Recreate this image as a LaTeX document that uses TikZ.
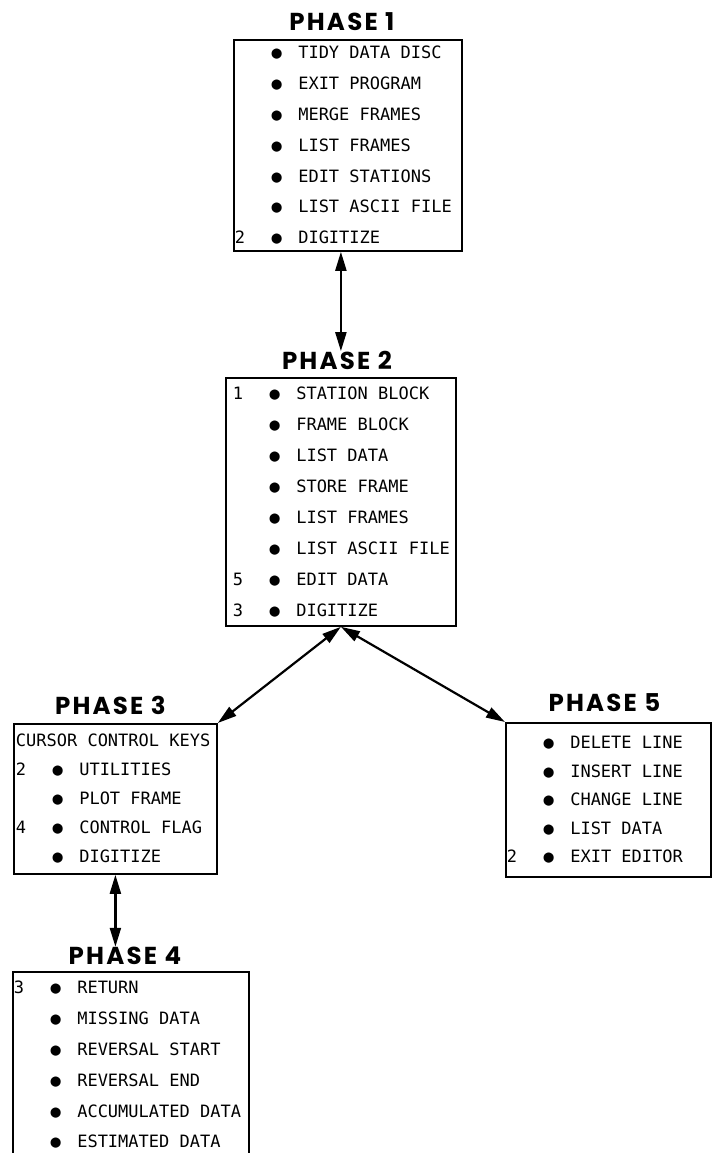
\documentclass[tikz,border=0pt]{standalone}
\usepackage{fontspec}
\setmonofont{DejaVu Sans Mono}
\newfontfamily\titlefont{Poppins}[LetterSpace=9]
\usetikzlibrary{arrows.meta, positioning}

% one menu line: key number, bullet, entry
\newlength\rowlead
\newcommand{\itm}[2]{\hspace*{\rowlead}\makebox[36.8pt][l]{#1}\makebox[26.6pt][l]{●}#2}

\begin{document}
\begin{tikzpicture}[x=1pt, y=-1pt,
    menu/.style={rectangle, draw, line width=1.8pt, inner xsep=0pt, inner ysep=0pt, align=left, anchor=north west},
    rowskip/.style={font=\ttfamily\fontsize{17pt}{#1}\selectfont},
    lead/.style={execute at begin node={\setlength\rowlead{#1}\spaceskip=10.23pt\relax}},
    phase/.style={inner sep=0pt, font=\titlefont\bfseries\fontsize{24.5pt}{25pt}\selectfont},
    twoway/.style={{Triangle[length=19pt,width=11pt]}-{Triangle[length=19pt,width=11pt]}, line width=2.2pt}
]
\useasboundingbox (0,0) rectangle (712,1153);

\node[menu, rowskip=30.8pt, lead=1pt, text width=228pt, minimum height=211pt] (p1box) at (233,39)
  {\itm{}{TIDY DATA DISC}\\\itm{}{EXIT PROGRAM}\\\itm{}{MERGE FRAMES}\\\itm{}{LIST FRAMES}\\\itm{}{EDIT STATIONS}\\\itm{}{LIST ASCII FILE}\\\itm{2}{DIGITIZE}};
\node[phase, above=8pt of p1box, xshift=-6pt] (p1title) {PHASE 1};

\node[menu, rowskip=31pt, lead=7pt, text width=230pt, minimum height=248pt] (p2box) at (225,377)
  {\itm{1}{STATION BLOCK}\\\itm{}{FRAME BLOCK}\\\itm{}{LIST DATA}\\\itm{}{STORE FRAME}\\\itm{}{LIST FRAMES}\\\itm{}{LIST ASCII FILE}\\\itm{5}{EDIT DATA}\\\itm{3}{DIGITIZE}};
\node[phase, above=7pt of p2box, xshift=-4pt] (p2title) {PHASE 2};

\node[menu, rowskip=29pt, lead=2pt, text width=203pt, minimum height=150pt] (p3box) at (13,723)
  {\hspace*{\rowlead}CURSOR CONTROL KEYS\\\itm{2}{UTILITIES}\\\itm{}{PLOT FRAME}\\\itm{4}{CONTROL FLAG}\\\itm{}{DIGITIZE}};
\node[phase, above=8pt of p3box, xshift=-5pt] (p3title) {PHASE 3};

\node[menu, rowskip=28.5pt, lead=1pt, text width=205pt, minimum height=154pt] (p5box) at (505,722)
  {\itm{}{DELETE LINE}\\\itm{}{INSERT LINE}\\\itm{}{CHANGE LINE}\\\itm{}{LIST DATA}\\\itm{2}{EXIT EDITOR}};
\node[phase, above=10pt of p5box, xshift=-4pt] (p5title) {PHASE 5};

% last menu runs off the sheet, so no bottom edge
\node[menu, draw=none, rowskip=30.8pt, lead=0pt, text width=234pt, minimum height=184pt] (p4box) at (13,972)
  {\itm{3}{RETURN}\\\itm{}{MISSING DATA}\\\itm{}{REVERSAL START}\\\itm{}{REVERSAL END}\\\itm{}{ACCUMULATED DATA}\\\itm{}{ESTIMATED DATA}};
\draw[line width=1.8pt] (p4box.south west) -- (p4box.north west) -- (p4box.north east) -- (p4box.south east);
\node[phase, above=7pt of p4box, xshift=-6pt] (p4title) {PHASE 4};

\draw[twoway] (p1box.south -| p2box.north) -- (p2box.north |- p2title.north);
\draw[twoway] (p2box.south) -- (p3box.north east);
\draw[twoway] (p2box.south) -- (p5box.north west);
\draw[twoway] (p3box.south) -- (p3box.south |- p4title.north);
\end{tikzpicture}
\end{document}
